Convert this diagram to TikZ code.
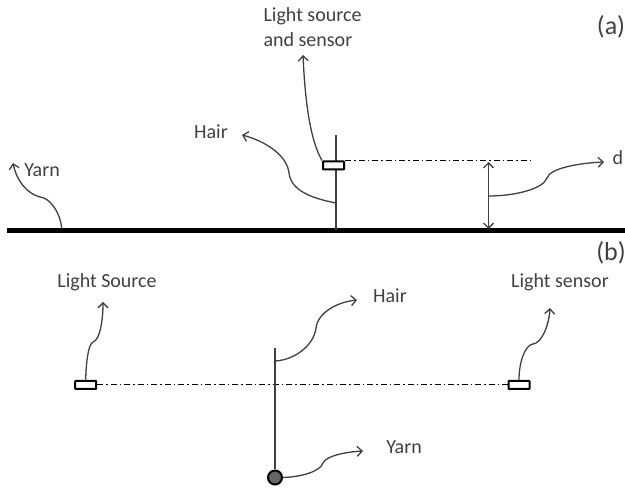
\documentclass[tikz,border=0pt]{standalone}
\usepackage{fontspec}
\setmainfont{Carlito}
\usepackage{tikz}
\usetikzlibrary{positioning,arrows.meta}
\definecolor{inkgray}{HTML}{404040}
\tikzset{
  lbl/.style={text=inkgray,font=\fontsize{20}{25}\selectfont,inner sep=0pt},
  tag/.style={text=inkgray,font=\fontsize{26}{30}\selectfont,inner sep=0pt},
  leader/.style={-{Straight Barb[length=5pt,width=10pt]},line width=1.3pt,draw=inkgray},
  strand/.style={line width=1.5pt,draw=inkgray},
  beam/.style={line width=1pt,dash pattern=on 6pt off 3pt on 1.5pt off 3pt},
  sensorbox/.style={draw=black,fill=white,line width=2pt,rounded corners=0.5pt,minimum width=21pt,minimum height=8pt,inner sep=0pt},
}
\begin{document}
\begin{tikzpicture}[x=1pt,y=-1pt]
\useasboundingbox (0,0) rectangle (625,489);
% part a
\node[tag] (tagA) at (611,27) {(a)};
\node[lbl,align=left] (srcsensA) at (312.5,27) {Light source\\and sensor};
\node[lbl] (hairA) at (211,132) {Hair};
\node[lbl] (yarnA) at (42,170) {Yarn};
\node[lbl] (distA) at (618,158) {d};
\coordinate (groundL) at (7,230.5);
\coordinate (groundR) at (625,230.5);
\coordinate (hairtopA) at (336,135);
\coordinate (hairbotA) at (336,230);
\draw[line width=5pt] (groundL) -- (groundR);
\draw[strand] (hairtopA) -- (hairbotA);
\node[sensorbox] (boxA) at (333.5,165.5) {};
\coordinate (beamendA) at (530,0);
\coordinate (dtop) at (488.5,162);
\coordinate (dbot) at (488.5,229);
\draw[beam] (boxA.north east) -- (boxA.north east -| beamendA);
\draw[{Straight Barb[length=5pt,width=10pt]}-{Straight Barb[length=5pt,width=10pt]},line width=1.4pt,draw=inkgray] (dtop) -- (dbot);
\draw[leader] (61.7,228) .. controls (60,212) and (50,198) .. (40,197) .. controls (28,194) and (17,182) .. (13,163);
\draw[leader] (336,203) .. controls (310,198) and (291,190) .. (289,173) .. controls (287,155) and (265,141) .. (242,135);
\draw[leader] (boxA.north west) .. controls (310,140) and (305,100) .. (303,55);
\draw[leader] (488.5,196) .. controls (515,196) and (543,189) .. (547,178) .. controls (550,168) and (580,163) .. (604,162);
% part b
\node[tag] (tagB) at (611,253) {(b)};
\node[lbl] (srcB) at (107,282) {Light Source};
\node[lbl] (sensB) at (560,282) {Light sensor};
\node[lbl] (hairB) at (390,296) {Hair};
\node[lbl] (yarnB) at (404,447) {Yarn};
\node[sensorbox] (boxL) at (85.7,385) {};
\node[sensorbox] (boxR) at (519,385) {};
\coordinate (hairtopB) at (275,348);
\node[circle,draw=black,fill=black!60,line width=2pt,minimum size=14pt,inner sep=0pt] (root) at (275,477.5) {};
\draw[beam] (boxL) -- (boxR);
\draw[strand] (hairtopB) -- (root);
\draw[leader] (boxL.north) .. controls (86,365) and (88,344) .. (93,342) .. controls (100,340) and (103,320) .. (103,302);
\draw[leader] (boxR.north) .. controls (519,362) and (525,345) .. (533,344) .. controls (542,343) and (549,325) .. (550,308);
\draw[leader] (275,361) .. controls (295,360) and (314,345) .. (316,328) .. controls (318,312) and (338,302) .. (357,300);
\draw[leader] (root.east) .. controls (300,477) and (320,472) .. (323,463) .. controls (326,456) and (345,452) .. (363,451);
\end{tikzpicture}
\end{document}
